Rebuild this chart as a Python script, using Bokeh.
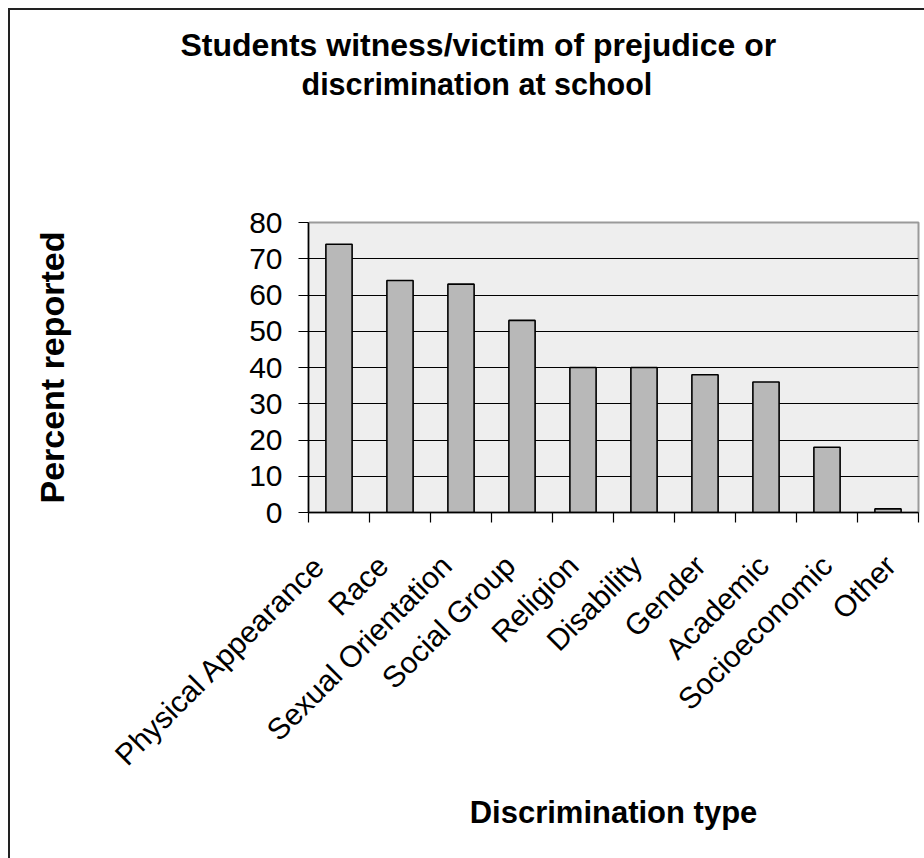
import numpy as np
from bokeh.plotting import figure
from bokeh.models import Range1d, FixedTicker, Title, ColumnDataSource, InlineStyleSheet, LinearAxis
from bokeh.embed import file_html
from bokeh.resources import INLINE

# Survey results: share of students who witnessed or experienced each kind of prejudice
categories = [
    "Physical Appearance", "Race", "Sexual Orientation", "Social Group", "Religion",
    "Disability", "Gender", "Academic", "Socioeconomic", "Other",
]
percent_reported = [74, 64, 63, 53, 40, 40, 38, 36, 18, 1]
y_ticks = [0, 10, 20, 30, 40, 50, 60, 70, 80]
grid_levels = [10, 20, 30, 40, 50, 60, 70]

title_lines = ["Students witness/victim of prejudice or", "discrimination at school"]
x_title = "Discrimination type"
y_title = "Percent reported"

FONT = "Liberation Sans"
W, H = 924, 858

n = len(categories)
idx = np.arange(n)
centers = idx + 0.5
# rotated category names end just left of the bar centre, fanning out slightly
label_pos = centers - 0.32 + 0.04 * idx
source = ColumnDataSource(dict(x=centers, pct=percent_reported, name=categories))

p = figure(
    width=W, height=H,
    x_range=Range1d(0, n), y_range=Range1d(0, y_ticks[-1]),
    output_backend="svg", toolbar_location=None, title=None,
    min_border_left=308, min_border_right=6, min_border_top=222, min_border_bottom=346,
)
p.background_fill_color = "#EEEEEE"
p.border_fill_color = "white"
p.outline_line_color = "#9A9A9A"
p.outline_line_width = 2

# outer chart border (left and top edges)
p.stylesheets = [InlineStyleSheet(css=(
    ":host::after{content:'';position:absolute;left:8px;top:8px;right:0;bottom:0;"
    "border-left:2px solid #222;border-top:2px solid #222;pointer-events:none;}"
))]

p.vbar(x="x", top="pct", width=0.43, source=source,
       fill_color="#B8B8B8", line_color="black", line_width=1.6)

# gridlines
p.xgrid.visible = False
p.ygrid.ticker = FixedTicker(ticks=grid_levels)
p.ygrid.grid_line_color = "black"
p.ygrid.grid_line_width = 1

# category axis: boundary ticks as minor ticks, names as major labels
xa = p.xaxis[0]
xa.ticker = FixedTicker(ticks=list(label_pos), minor_ticks=list(range(n + 1)))
xa.major_label_overrides = {float(c): name for c, name in zip(label_pos, categories)}
xa.major_label_orientation = np.pi / 4
xa.major_tick_out = 0
xa.major_tick_in = 0
xa.minor_tick_out = 10
xa.minor_tick_in = 0
xa.minor_tick_line_color = "black"
xa.minor_tick_line_width = 1.2
xa.axis_line_color = "black"
xa.axis_line_width = 1.5
xa.major_label_text_font = FONT
xa.major_label_text_font_size = "30px"
xa.major_label_text_color = "black"
xa.major_label_standoff = 38
xa.axis_label = x_title
xa.axis_label_text_font = FONT
xa.axis_label_text_font_size = "31px"
xa.axis_label_text_font_style = "bold"
xa.axis_label_text_color = "black"
xa.axis_label_standoff = 9

ya = p.yaxis[0]
ya.ticker = FixedTicker(ticks=y_ticks)
ya.major_tick_out = 10
ya.major_tick_in = 0
ya.minor_tick_line_color = None
ya.major_tick_line_color = "black"
ya.major_tick_line_width = 1.2
ya.axis_line_color = "black"
ya.axis_line_width = 1.5
ya.major_label_text_font = FONT
ya.major_label_text_font_size = "30px"
ya.major_label_text_color = "black"
ya.major_label_standoff = 16
ya.axis_label = y_title
ya.axis_label_text_font = FONT
ya.axis_label_text_font_size = "34px"
ya.axis_label_text_font_style = "bold"
ya.axis_label_text_color = "black"
ya.axis_label_standoff = 175

# empty band between the chart title and the plotting area:
# a bare axis whose single white tick only reserves vertical space
gap = LinearAxis(ticker=FixedTicker(ticks=[0.001]), major_tick_out=121, major_tick_in=0,
                 major_label_standoff=0, major_label_text_font_size="0px",
                 major_label_text_color=None, axis_line_color=None,
                 major_tick_line_color="white", minor_tick_line_color=None)
p.add_layout(gap, "above")

# two-line chart title
title_style = dict(text_font=FONT, text_font_style="bold", text_color="black", align="left", standoff=2)
p.add_layout(Title(text=title_lines[1], offset=-7, text_font_size="30.5px", **title_style), "above")
p.add_layout(Title(text=title_lines[0], offset=-128, text_font_size="32px", **title_style), "above")

open("out.html", "w").write(file_html(p, INLINE))
